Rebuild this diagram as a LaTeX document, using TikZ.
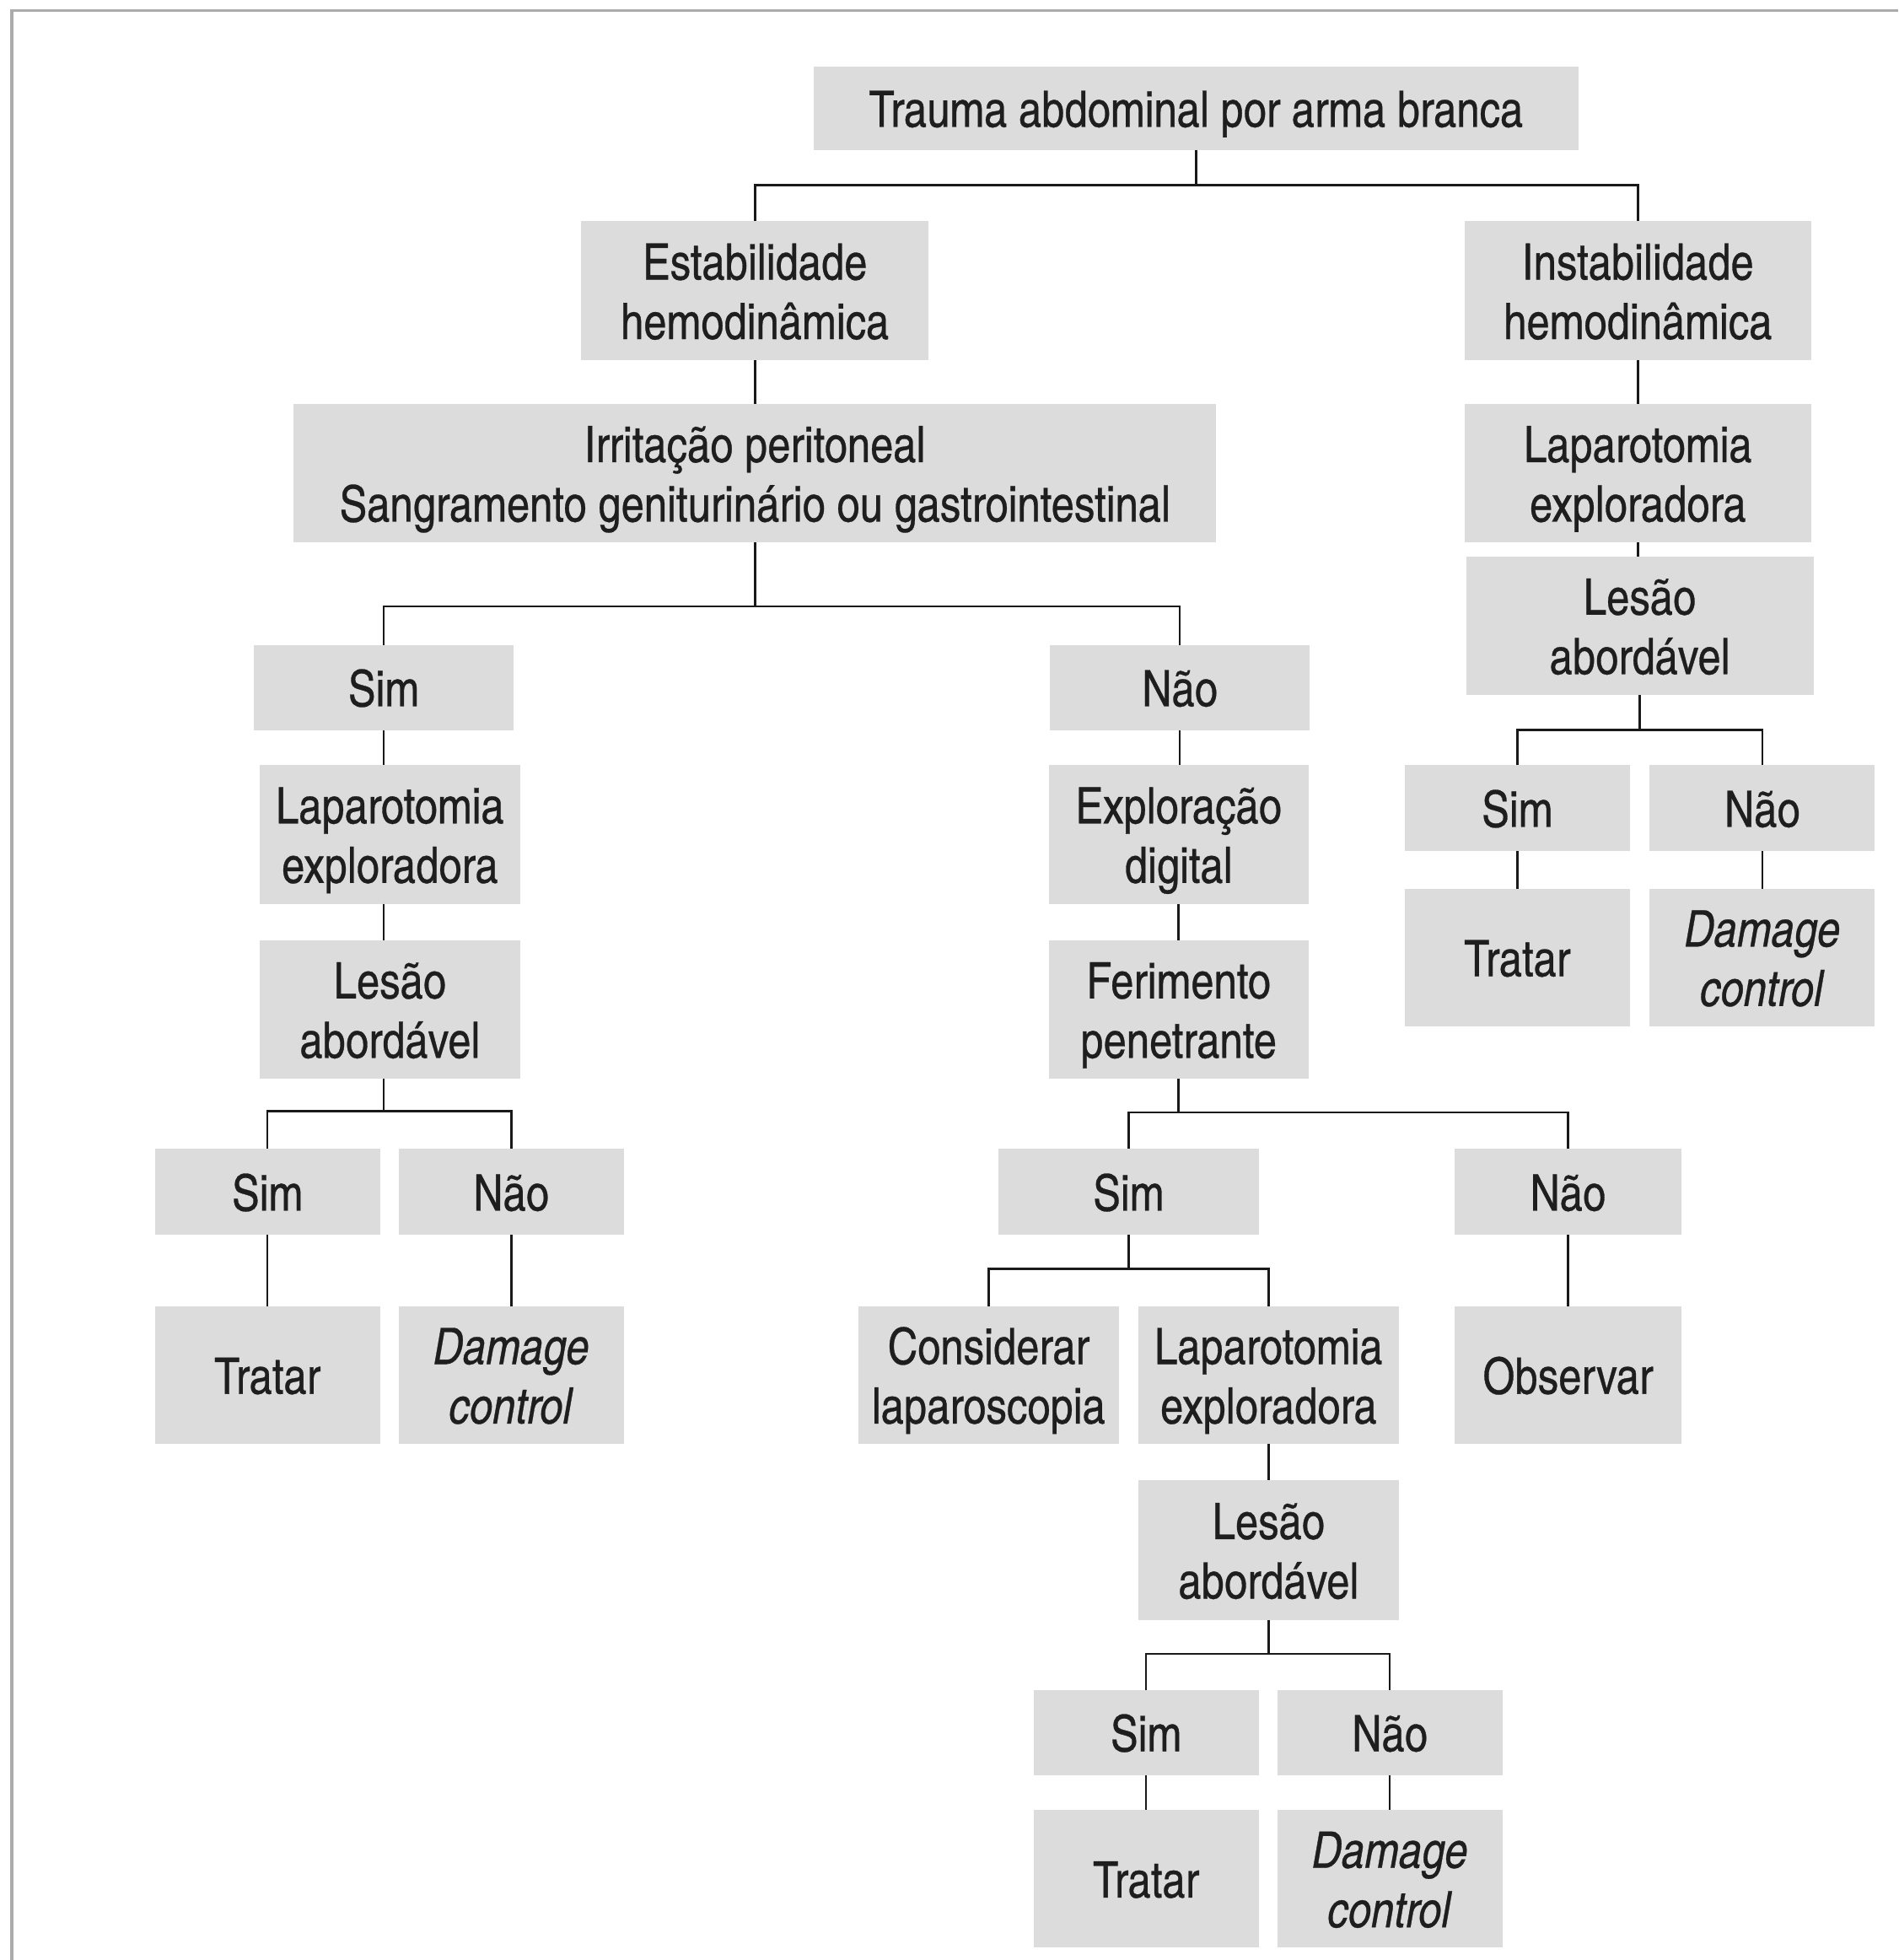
\documentclass[tikz,border=0pt]{standalone}
\usepackage{fontspec}
\setmainfont{texgyreheroscn-regular}[Extension=.otf, ItalicFont=texgyreheroscn-italic, BoldFont=texgyreheroscn-bold, FakeBold=0.5, ItalicFeatures={FakeBold=0.5}]
\definecolor{boxgray}{HTML}{DCDCDC}
\definecolor{textdark}{HTML}{1E1E1E}
\definecolor{framegray}{HTML}{ABABAB}
\newcommand\mybox[7]{\node[box, #1, minimum width={(#5-#3)*0.37pt}, minimum height={(#6-#4)*0.37pt}] (#2) at ({(#3+#5)/2},{(#4+#6)/2}) {#7};}
\begin{document}
\begin{tikzpicture}[x=0.37pt,y=-0.37pt,
  box/.style={fill=boxgray, inner sep=0pt, outer sep=0pt, align=center, text=textdark, font=\fontsize{14.9}{17.6}\selectfont, text depth=0pt},
  oneln/.style={text height=11.1pt},
  twoln/.style={text height=28.7pt},
  conn/.style={draw=black!90, line width=0.65pt},
  framest/.style={draw=framegray, line width=0.9pt}]
\useasboundingbox (0,0) rectangle (1519,1568);
\draw[framest] (9.5,1568) -- (9.5,8.5) -- (1519,8.5);

\mybox{oneln}{trauma}{651}{53}{1263}{120}{Trauma abdominal por arma branca}
\mybox{twoln}{est}{465}{177}{743}{288}{Estabilidade\\hemodinâmica}
\mybox{twoln}{inst}{1172}{177}{1449}{288}{Instabilidade\\hemodinâmica}
\mybox{twoln}{irr}{235}{323}{973}{434}{Irritação peritoneal\\Sangramento geniturinário ou gastrointestinal}
\mybox{twoln}{lapR}{1172}{323}{1449}{434}{Laparotomia\\exploradora}
\mybox{twoln}{lesR}{1173}{445}{1451}{556}{Lesão\\abordável}
\mybox{oneln}{simR}{1124}{612}{1304}{681}{Sim}
\mybox{oneln}{naoR}{1320}{612}{1500}{681}{Não}
\mybox{oneln}{tratR}{1124}{711}{1304}{821}{Tratar}
\mybox{twoln}{dcR}{1320}{711}{1500}{821}{\textit{Damage}\\\textit{control}}

\mybox{oneln}{simA}{203}{516}{411}{584}{Sim}
\mybox{oneln}{naoA}{840}{516}{1048}{584}{Não}
\mybox{twoln}{lapA}{208}{612}{416}{723}{Laparotomia\\exploradora}
\mybox{twoln}{lesA}{208}{752}{416}{863}{Lesão\\abordável}
\mybox{oneln}{simA2}{124}{919}{304}{988}{Sim}
\mybox{oneln}{naoA2}{319}{919}{499}{988}{Não}
\mybox{oneln}{tratA}{124}{1045}{304}{1155}{Tratar}
\mybox{twoln}{dcA}{319}{1045}{499}{1155}{\textit{Damage}\\\textit{control}}

\mybox{twoln}{expl}{839}{612}{1047}{723}{Exploração\\digital}
\mybox{twoln}{fer}{839}{752}{1047}{863}{Ferimento\\penetrante}
\mybox{oneln}{simB}{799}{919}{1007}{988}{Sim}
\mybox{oneln}{naoB}{1164}{919}{1345}{988}{Não}
\mybox{twoln}{cons}{687}{1045}{895}{1155}{Considerar\\laparoscopia}
\mybox{twoln}{lapB}{911}{1045}{1119}{1155}{Laparotomia\\exploradora}
\mybox{oneln}{obs}{1164}{1045}{1345}{1155}{Observar}
\mybox{twoln}{lesB}{911}{1184}{1119}{1296}{Lesão\\abordável}
\mybox{oneln}{simB2}{827}{1352}{1007}{1420}{Sim}
\mybox{oneln}{naoB2}{1022}{1352}{1202}{1420}{Não}
\mybox{oneln}{tratB}{827}{1448}{1007}{1558}{Tratar}
\mybox{twoln}{dcB}{1022}{1448}{1202}{1558}{\textit{Damage}\\\textit{control}}

% tree connectors
\draw[conn] (trauma.south) -- ++(0,28) coordinate (b1);
\draw[conn] (b1) -| (est.north);
\draw[conn] (b1) -| (inst.north);
\draw[conn] (est.south) -- (est.south |- irr.north);
\draw[conn] (inst.south) -- (inst.south |- lapR.north);
\draw[conn] (lapR.south) -- (lapR.south |- lesR.north);
\draw[conn] (lesR.south) -- ++(0,28) coordinate (b2);
\draw[conn] (b2) -| (simR.north);
\draw[conn] (b2) -| (naoR.north);
\draw[conn] (simR.south) -- (simR.south |- tratR.north);
\draw[conn] (naoR.south) -- (naoR.south |- dcR.north);

\draw[conn] (irr.south) -- ++(0,51) coordinate (b3);
\draw[conn] (b3) -| (simA.north);
\draw[conn] (b3) -| (naoA.north);
\draw[conn] (simA.south) -- (simA.south |- lapA.north);
\draw[conn] (lapA.south -| simA.south) -- (simA.south |- lesA.north);
\draw[conn] (lesA.south -| simA.south) -- ++(0,26) coordinate (b4);
\draw[conn] (b4) -| (simA2.north);
\draw[conn] (b4) -| (naoA2.north);
\draw[conn] (simA2.south) -- (simA2.south |- tratA.north);
\draw[conn] (naoA2.south) -- (naoA2.south |- dcA.north);

\draw[conn] (naoA.south) -- (naoA.south |- expl.north);
\draw[conn] (expl.south) -- (expl.south |- fer.north);
\draw[conn] (fer.south) -- ++(0,27) coordinate (b5);
\draw[conn] (b5) -| (simB.north);
\draw[conn] (b5) -| (naoB.north);
\draw[conn] (simB.south) -- ++(0,27) coordinate (b6);
\draw[conn] (b6) -| (cons.north);
\draw[conn] (b6) -| (lapB.north);
\draw[conn] (naoB.south) -- (naoB.south |- obs.north);
\draw[conn] (lapB.south) -- (lapB.south |- lesB.north);
\draw[conn] (lesB.south) -- ++(0,27) coordinate (b7);
\draw[conn] (b7) -| (simB2.north);
\draw[conn] (b7) -| (naoB2.north);
\draw[conn] (simB2.south) -- (simB2.south |- tratB.north);
\draw[conn] (naoB2.south) -- (naoB2.south |- dcB.north);
\end{tikzpicture}
\end{document}
